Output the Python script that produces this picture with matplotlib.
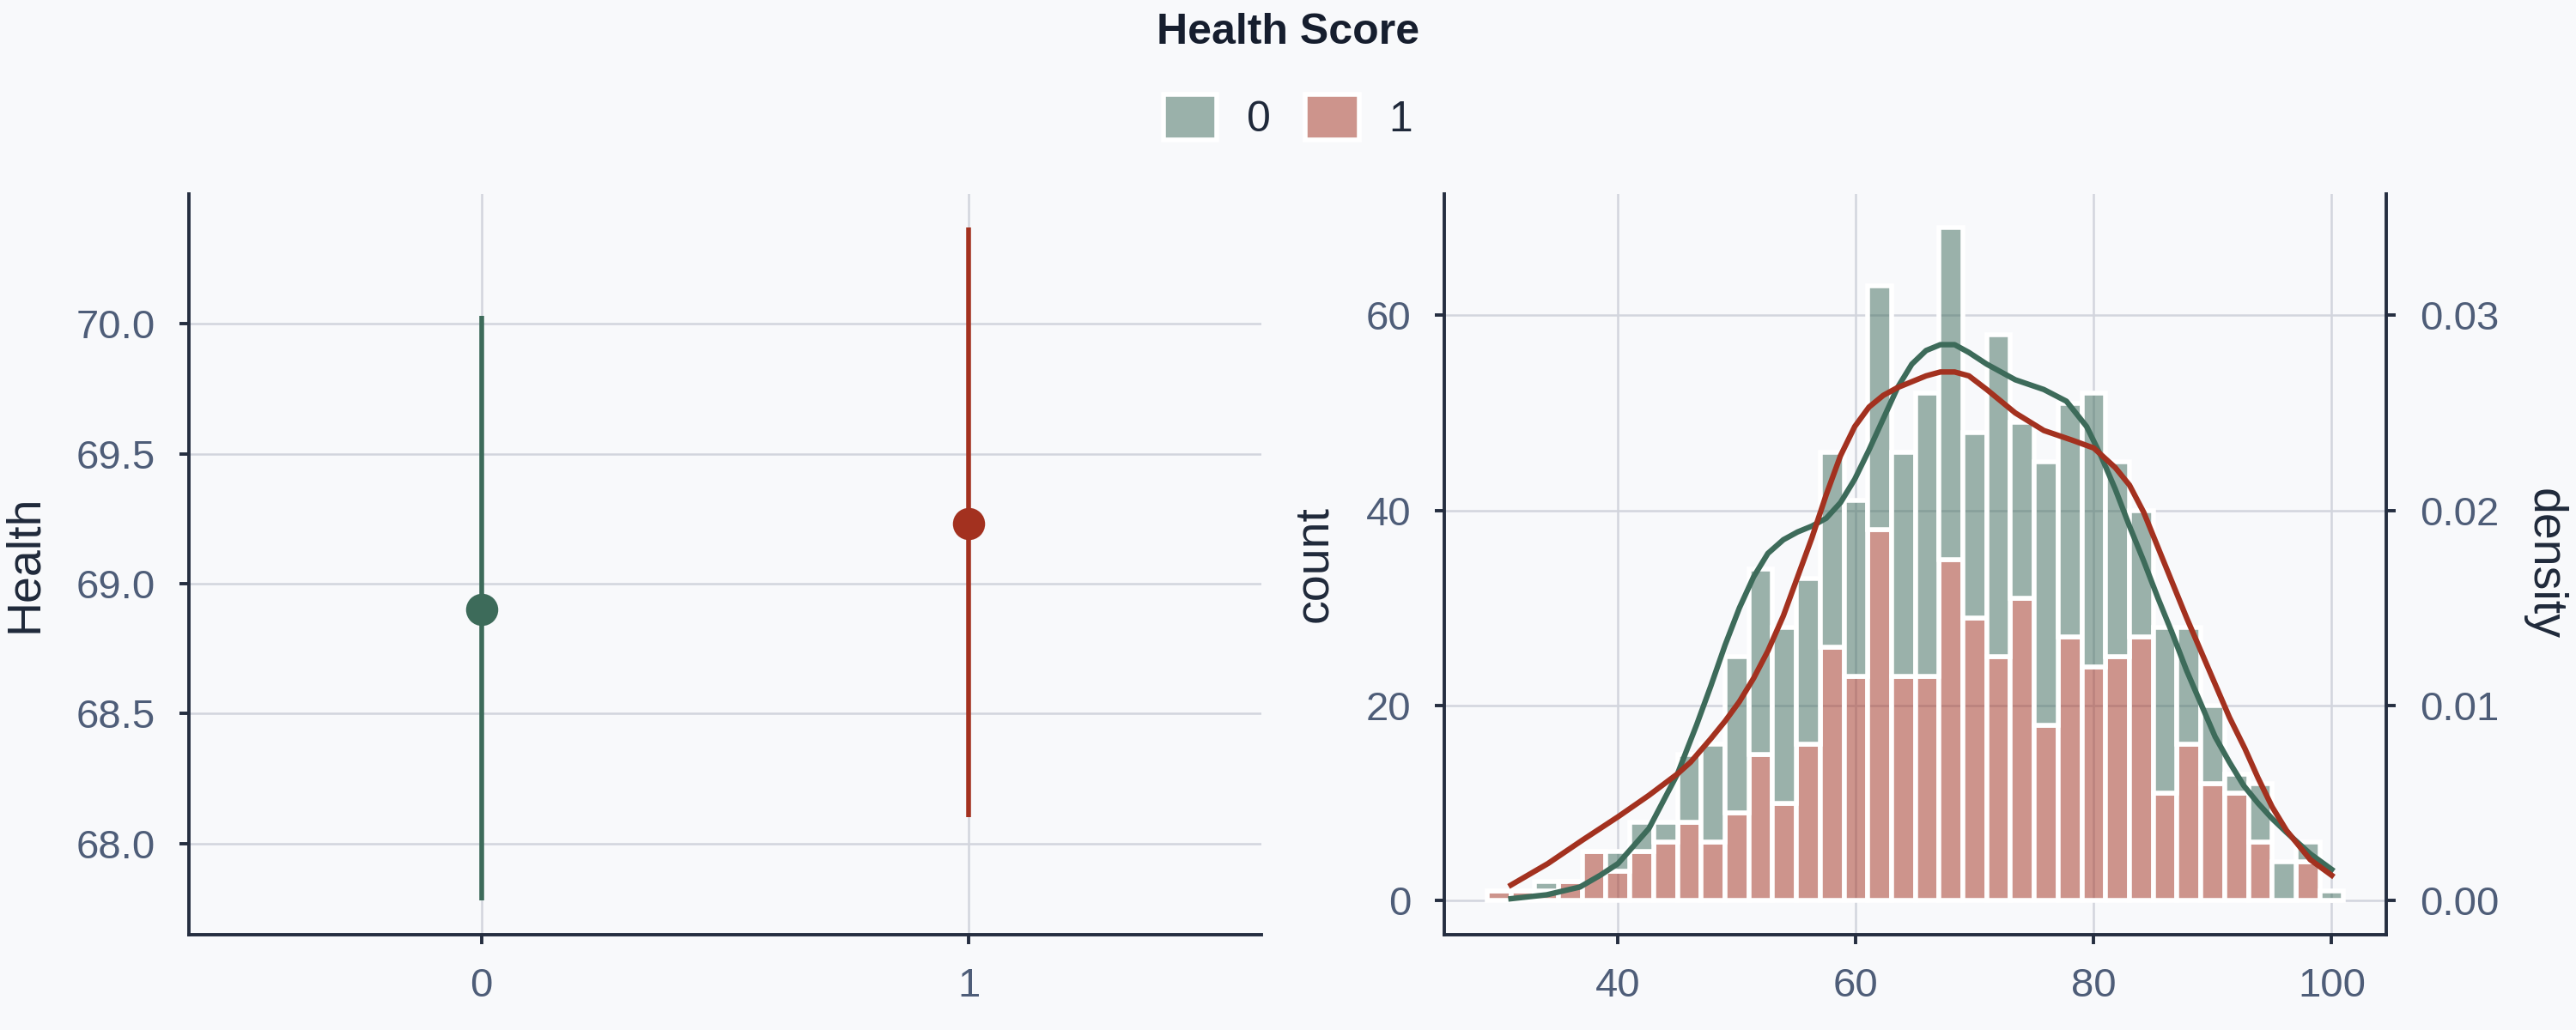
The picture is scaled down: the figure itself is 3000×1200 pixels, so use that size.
import matplotlib
matplotlib.use('Agg')
import matplotlib.pyplot as plt
import numpy as np
from matplotlib.colors import to_rgba
from matplotlib.patches import Patch

plt.rcParams['font.family'] = ['Liberation Sans', 'DejaVu Sans']

# ---- data ----
score_levels = ['0', '1']
health_mean = [68.90, 69.23]
health_ci_lo = [67.78, 68.10]
health_ci_hi = [70.03, 70.37]

bin_edges = np.arange(29, 103, 2)   # 36 bins of width 2
count_score1 = [1, 1, 1, 2, 5, 3, 5, 6, 8, 6, 9, 15, 10, 16, 26, 23, 38, 23,
                23, 35, 29, 25, 31, 18, 27, 24, 25, 27, 11, 16, 12, 11, 6, 0, 4, 0]
count_score0 = [0, 0, 1, 0, 0, 2, 3, 2, 7, 10, 16, 19, 18, 17, 20, 18, 25, 23,
                29, 34, 19, 33, 18, 27, 24, 28, 20, 13, 17, 12, 8, 2, 6, 4, 2, 1]

kde0_x = [31.0, 34.0, 36.8, 38.5, 40.0, 42.6, 45.0, 46.6, 47.8, 49.0, 50.2, 51.4,
          52.6, 53.9, 55.1, 56.3, 57.5, 58.7, 59.9, 61.1, 62.3, 63.5, 64.7, 65.9,
          67.1, 68.3, 69.5, 71.0, 73.4, 75.8, 77.7, 79.4, 80.6, 81.8, 83.0, 84.2,
          85.4, 86.6, 87.8, 89.0, 90.2, 91.4, 92.6, 93.8, 95.0, 96.2, 98.2, 100.0]
kde0_y = [0.0001, 0.0003, 0.0007, 0.0013, 0.0019, 0.0037, 0.0065, 0.0090, 0.0110,
          0.0131, 0.0150, 0.0166, 0.0178, 0.0185, 0.0189, 0.0192, 0.0196, 0.0204,
          0.0216, 0.0231, 0.0247, 0.0263, 0.0275, 0.0282, 0.0285, 0.0285, 0.0281,
          0.0275, 0.0267, 0.0262, 0.0256, 0.0243, 0.0228, 0.0211, 0.0192, 0.0174,
          0.0155, 0.0137, 0.0118, 0.0101, 0.0084, 0.0071, 0.0059, 0.0050, 0.0042,
          0.0035, 0.0024, 0.0016]
kde1_x = [31.0, 34.1, 37.0, 40.0, 42.6, 45.0, 46.1, 47.8, 49.0, 50.2, 51.4, 52.6,
          53.9, 55.1, 56.3, 57.5, 58.7, 59.9, 61.1, 62.3, 63.5, 64.7, 65.9, 67.1,
          68.3, 69.5, 71.0, 73.4, 75.8, 78.2, 80.0, 81.8, 83.0, 84.2, 85.4, 86.6,
          87.8, 89.0, 90.2, 91.4, 92.7, 93.8, 95.0, 96.2, 98.2, 100.0]
kde1_y = [0.0008, 0.0019, 0.0031, 0.0043, 0.0054, 0.0065, 0.0071, 0.0083, 0.0092,
          0.0102, 0.0114, 0.0128, 0.0146, 0.0166, 0.0186, 0.0208, 0.0228, 0.0243,
          0.0253, 0.0259, 0.0263, 0.0266, 0.0269, 0.0271, 0.0271, 0.0269, 0.0262,
          0.0250, 0.0241, 0.0236, 0.0232, 0.0222, 0.0213, 0.0199, 0.0181, 0.0163,
          0.0145, 0.0128, 0.0111, 0.0094, 0.0078, 0.0063, 0.0048, 0.0036, 0.0021,
          0.0013]

# ---- style ----
bg = '#f8f9fb'
green = '#3d6b5a'
red = '#a3311f'
spine_c = '#252e40'
tick_c = '#4e5d78'
label_c = '#1f293a'
grid_c = '#d2d5dd'
fs_tick = 17
fs_label = 20

fig = plt.figure(figsize=(15, 6), dpi=200, facecolor=bg)
ax1 = fig.add_axes([0.0733, 0.0929, 0.4163, 0.7188])
ax2 = fig.add_axes([0.5607, 0.0929, 0.3657, 0.7188])


def style_axes(ax):
    ax.set_facecolor(bg)
    ax.set_axisbelow(True)
    ax.grid(True, color=grid_c, lw=0.9)
    for s in ['top', 'right']:
        ax.spines[s].set_visible(False)
    for s in ['left', 'bottom']:
        ax.spines[s].set_color(spine_c)
        ax.spines[s].set_linewidth(1.4)
    ax.tick_params(colors=spine_c, labelcolor=tick_c, labelsize=fs_tick,
                   length=4, width=1.4, pad=10)


# left: point plot with CI
style_axes(ax1)
cols = [green, red]
for i, lvl in enumerate(score_levels):
    ax1.plot([i, i], [health_ci_lo[i], health_ci_hi[i]], color=cols[i], lw=2,
             solid_capstyle='butt', zorder=3)
    ax1.plot(i, health_mean[i], 'o', color=cols[i], ms=13.5, mec='none', zorder=4)
ax1.set_xticks(range(len(score_levels)))
ax1.set_xticklabels(score_levels)
ax1.set_xlim(-0.6, 1.6)
ax1.set_ylim(67.65, 70.5)
ax1.set_yticks([68.0, 68.5, 69.0, 69.5, 70.0])
ax1.set_ylabel('Health', fontsize=fs_label, color=label_c, labelpad=12)

# right: stacked histogram + kde on twin axis
style_axes(ax2)
centers = (bin_edges[:-1] + bin_edges[1:]) / 2
width = np.diff(bin_edges)
ax2.bar(centers, count_score1, width=width, color=to_rgba(red, 0.5),
        edgecolor='white', lw=2, zorder=2)
ax2.bar(centers, count_score0, width=width, bottom=count_score1,
        color=to_rgba(green, 0.5), edgecolor='white', lw=2, zorder=2)
ax2.set_xlim(25.4, 104.6)
ax2.set_xticks([40, 60, 80, 100])
ylo, yhi = -3.45, 72.45
ax2.set_ylim(ylo, yhi)
ax2.set_yticks([0, 20, 40, 60])
ax2.set_ylabel('count', fontsize=fs_label, color=label_c, labelpad=12)

ax3 = ax2.twinx()
ax3.patch.set_visible(False)
for s in ['top', 'left', 'bottom']:
    ax3.spines[s].set_visible(False)
ax3.spines['right'].set_color(spine_c)
ax3.spines['right'].set_linewidth(1.4)
ax3.tick_params(colors=spine_c, labelcolor=tick_c, labelsize=fs_tick,
                length=4, width=1.4, pad=10)
ax3.plot(kde0_x, kde0_y, color=green, lw=2.3, solid_joinstyle='round')
ax3.plot(kde1_x, kde1_y, color=red, lw=2.3, solid_joinstyle='round')
ax3.set_ylim(ylo / 2000, yhi / 2000)
ax3.set_yticks([0.0, 0.01, 0.02, 0.03])
ax3.set_yticklabels(['0.00', '0.01', '0.02', '0.03'])
ax3.set_ylabel('density', fontsize=fs_label, color=label_c, rotation=270,
               labelpad=28)

# legend
fig.text(0.5, 0.968, 'Health Score', ha='center', va='center', fontsize=18,
         fontweight='bold', color='#161e2e')
handles = [Patch(facecolor=to_rgba(c, 0.5), edgecolor='white', lw=2) for c in cols]
leg = fig.legend(handles, score_levels, loc='center', bbox_to_anchor=(0.5, 0.886),
                 ncol=2, frameon=False, fontsize=18, handlelength=1.25,
                 handleheight=1.25, handletextpad=0.7, columnspacing=0.8)
for t in leg.get_texts():
    t.set_color(label_c)

fig.savefig('out.png', dpi=200, facecolor=bg)
